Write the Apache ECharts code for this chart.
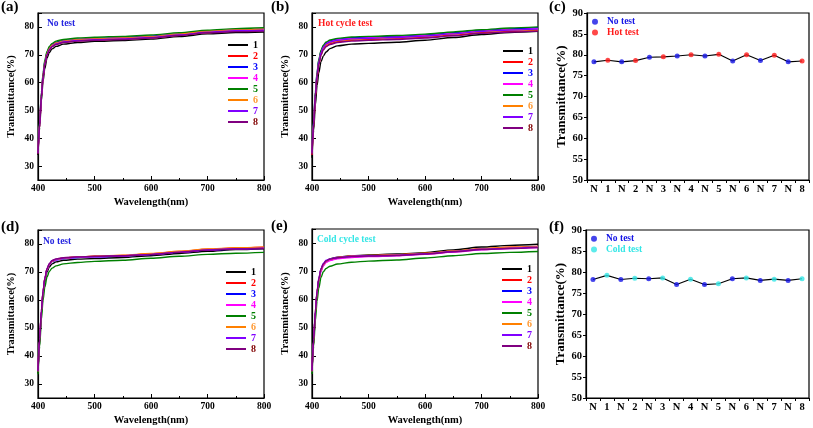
<!DOCTYPE html>
<html>
<head>
<meta charset="utf-8">
<script src="https://cdn.jsdelivr.net/npm/echarts@6.0.0/dist/echarts.min.js"></script>
<style>
  html, body { margin: 0; padding: 0; background: #fff; }
  #chart { width: 813px; height: 428px; }
</style>
</head>
<body>
<div id="chart"></div>
<script>
// wavelength samples (nm)
const wavelengths = [400, 403, 406, 409, 412, 416, 420, 425, 432, 445, 470, 500, 550, 600, 650, 700, 750, 800]
const sampleNames = ['1', '2', '3', '4', '5', '6', '7', '8']
const lineColors = ['#000000', '#FF0000', '#0000FF', '#FF00FF', '#008000', '#FF8000', '#8000FF', '#800080']
const labelColors = ['#000000', '#FF0000', '#0000FF', '#FF00FF', '#008000', '#FF9933', '#8000FF', '#800000']

// (a) No test
const noTestA = [
  [34, 44, 53.5, 60.5, 65, 68.8, 70.8, 72.1, 73.0, 73.8, 74.4, 74.8, 75.1, 75.6, 76.5, 77.5, 78.0, 78.2],
  [34.5, 45, 55, 62, 66.5, 70, 71.8, 73.0, 73.8, 74.5, 75.0, 75.3, 75.6, 76.1, 77.0, 78.0, 78.5, 78.8],
  [35, 46, 56, 63, 67.5, 70.8, 72.5, 73.7, 74.5, 75.1, 75.6, 75.9, 76.2, 76.7, 77.5, 78.5, 79.0, 79.3],
  [34.8, 45.5, 55.5, 62.5, 67, 70.3, 72.1, 73.3, 74.1, 74.8, 75.3, 75.6, 75.9, 76.4, 77.2, 78.2, 78.7, 79.0],
  [35, 46.5, 56.5, 63.5, 68, 71.2, 73.0, 74.1, 74.9, 75.5, 76.0, 76.3, 76.6, 77.1, 77.9, 78.8, 79.4, 79.7],
  [34.8, 45.5, 55.5, 62.5, 67, 70.4, 72.2, 73.4, 74.2, 74.9, 75.4, 75.7, 76.0, 76.5, 77.4, 78.4, 78.9, 79.2],
  [34.6, 45.2, 55.2, 62.2, 66.7, 70.1, 71.9, 73.1, 73.9, 74.6, 75.1, 75.4, 75.7, 76.2, 77.1, 78.1, 78.6, 78.8],
  [34.5, 45, 55, 62, 66.5, 69.9, 71.7, 72.9, 73.7, 74.4, 74.9, 75.2, 75.5, 76.0, 76.9, 77.9, 78.3, 78.5]
]
// (b) Hot cycle test
const hotCycleB = [
  [33, 43, 52, 59, 63.5, 67.5, 69.5, 71.0, 72.2, 73.2, 73.8, 74.1, 74.5, 75.2, 76.2, 77.3, 78.0, 78.4],
  [34, 45, 55, 62, 66.5, 70, 72.0, 73.2, 74.0, 74.7, 75.2, 75.5, 75.8, 76.3, 77.0, 77.9, 78.4, 78.7],
  [35, 46.5, 56.5, 63.5, 68, 71.3, 73.1, 74.3, 75.0, 75.6, 76.1, 76.3, 76.6, 77.1, 77.9, 78.7, 79.3, 79.7],
  [35, 46, 56, 63, 67.5, 71, 72.8, 74.0, 74.7, 75.3, 75.8, 76.0, 76.3, 76.8, 77.6, 78.5, 79.0, 79.3],
  [35.2, 46.8, 56.8, 63.8, 68.3, 71.6, 73.4, 74.6, 75.3, 75.9, 76.4, 76.6, 76.9, 77.4, 78.2, 79.0, 79.6, 80.0],
  [34.5, 45.5, 55.5, 62.5, 67, 70.5, 72.4, 73.6, 74.4, 75.0, 75.5, 75.8, 76.1, 76.6, 77.4, 78.3, 78.8, 79.0],
  [34.8, 45.8, 55.8, 62.8, 67.3, 70.8, 72.7, 73.9, 74.6, 75.2, 75.7, 75.9, 76.2, 76.7, 77.5, 78.4, 78.9, 79.2],
  [34.2, 45, 55, 62, 66.5, 69.8, 71.7, 72.9, 73.7, 74.4, 74.9, 75.2, 75.5, 76.0, 76.8, 77.7, 78.2, 78.5]
]
// (d) No test
const noTestD = [
  [34, 45, 55, 62, 66.5, 70, 71.8, 72.9, 73.6, 74.2, 74.6, 74.8, 75.2, 75.8, 76.6, 77.4, 78.0, 78.3],
  [34.5, 46, 56, 63, 67.5, 71, 72.8, 73.9, 74.5, 75.0, 75.4, 75.6, 75.9, 76.5, 77.3, 78.1, 78.6, 78.9],
  [34.5, 45.8, 55.8, 62.8, 67.3, 70.8, 72.6, 73.7, 74.3, 74.8, 75.2, 75.4, 75.7, 76.2, 77.0, 77.8, 78.2, 78.5],
  [34.5, 45.8, 55.8, 62.8, 67.3, 70.9, 72.7, 73.8, 74.4, 74.9, 75.3, 75.5, 75.8, 76.3, 77.1, 77.9, 78.3, 78.6],
  [33.5, 43.5, 53, 60, 64.5, 68.2, 70.2, 71.4, 72.2, 72.9, 73.4, 73.8, 74.2, 74.9, 75.6, 76.3, 76.7, 77.0],
  [34.5, 46, 56, 63, 67.5, 71, 72.8, 73.9, 74.5, 75.0, 75.4, 75.6, 76.0, 76.6, 77.4, 78.2, 78.7, 78.9],
  [34.6, 46.2, 56.2, 63.2, 67.7, 71.2, 73.0, 74.1, 74.6, 75.0, 75.3, 75.5, 75.8, 76.3, 77.1, 77.9, 78.3, 78.5],
  [34.6, 46.2, 56.2, 63.2, 67.7, 71.2, 73.0, 74.1, 74.7, 75.1, 75.4, 75.6, 75.8, 76.2, 77.0, 77.8, 78.2, 78.4]
]
// (e) Cold cycle test
const coldCycleE = [
  [34.5, 45.5, 55.5, 62.5, 67, 70.6, 72.5, 73.7, 74.4, 75.0, 75.5, 75.8, 76.1, 76.6, 77.6, 78.6, 79.2, 79.6],
  [34.5, 45.5, 55.5, 62.5, 67, 70.5, 72.3, 73.5, 74.2, 74.8, 75.3, 75.5, 75.8, 76.3, 77.1, 77.9, 78.5, 78.8],
  [34.3, 45.2, 55.2, 62.2, 66.7, 70.2, 72.1, 73.3, 74.0, 74.6, 75.1, 75.4, 75.7, 76.2, 77.0, 77.8, 78.3, 78.6],
  [34.3, 45, 55, 62, 66.5, 70, 71.9, 73.1, 73.8, 74.4, 74.9, 75.2, 75.5, 76.0, 76.8, 77.6, 78.1, 78.4],
  [33.5, 43.5, 52.5, 59.5, 64, 67.8, 69.8, 71.0, 71.8, 72.6, 73.2, 73.6, 74.0, 74.7, 75.5, 76.3, 76.7, 77.0],
  [34.5, 45.5, 55.5, 62.5, 67, 70.5, 72.4, 73.6, 74.3, 74.9, 75.4, 75.6, 75.9, 76.4, 77.2, 78.0, 78.5, 78.7],
  [34.8, 46, 56, 63, 67.5, 71, 72.8, 73.9, 74.4, 74.9, 75.3, 75.5, 75.7, 76.2, 77.0, 77.8, 78.2, 78.5],
  [34.6, 45.8, 55.8, 62.8, 67.3, 70.8, 72.6, 73.7, 74.3, 74.8, 75.2, 75.4, 75.6, 76.1, 76.9, 77.7, 78.1, 78.4]
]

// (c) / (f) transmittance at one wavelength, N = before test
const cycleCats = ['N', '1', 'N', '2', 'N', '3', 'N', '4', 'N', '5', 'N', '6', 'N', '7', 'N', '8']
const hotCompare = [78.3, 78.7, 78.3, 78.6, 79.4, 79.5, 79.7, 80.0, 79.7, 80.1, 78.5, 80.0, 78.6, 79.9, 78.3, 78.5]
const coldCompare = [78.2, 79.2, 78.2, 78.5, 78.4, 78.6, 77.0, 78.3, 77.0, 77.2, 78.4, 78.6, 78.0, 78.3, 78.0, 78.4]

const FONT = 'Liberation Serif'
const chart = echarts.init(document.getElementById('chart'), null, { renderer: 'canvas' })

const grids = [
  { left: 38, top: 13, width: 226, height: 167 },
  { left: 312, top: 13, width: 226, height: 167 },
  { left: 587, top: 13, width: 222, height: 167 },
  { left: 38, top: 230, width: 226, height: 168 },
  { left: 312, top: 229, width: 226, height: 169 },
  { left: 586, top: 230, width: 223, height: 168 }
].map(g => ({ ...g, show: true, borderColor: '#000', borderWidth: 1.2, containLabel: false }))

const axisFont = { fontFamily: FONT, fontWeight: 'bold', color: '#000' }
const axisLine = { show: true, lineStyle: { color: '#000', width: 1.2 } }

const specX = i => ({
  type: 'value', gridIndex: i, min: 400, max: 800, interval: 100,
  axisLine, splitLine: { show: false },
  axisTick: { inside: true, length: 4, lineStyle: { color: '#000' } },
  minorTick: { show: true, splitNumber: 2, length: 2, lineStyle: { color: '#000' } },
  axisLabel: { ...axisFont, fontSize: 9.5, margin: 4 },
  name: 'Wavelength(nm)', nameLocation: 'middle', nameGap: 17,
  nameTextStyle: { ...axisFont, fontSize: 10.5 }
})
const specY = i => ({
  type: 'value', gridIndex: i, min: 25, max: 85,
  axisLine, splitLine: { show: false },
  axisTick: { inside: true, length: 4, lineStyle: { color: '#000' } },
  axisLabel: { ...axisFont, fontSize: 9.5, margin: 4, formatter: v => (v % 10 === 0 ? v : '') },
  name: 'Transmittance(%)', nameLocation: 'middle', nameGap: 21,
  nameTextStyle: { ...axisFont, fontSize: 10.5 }
})
const cmpX = i => ({
  type: 'category', gridIndex: i, data: cycleCats, boundaryGap: true,
  axisLine, splitLine: { show: false },
  axisTick: { show: true, length: 3, lineStyle: { color: '#000' } },
  axisLabel: { ...axisFont, fontSize: 10.5, margin: 4, interval: 0 }
})
const cmpY = i => ({
  type: 'value', gridIndex: i, min: 50, max: 90, interval: 5,
  axisLine, splitLine: { show: false },
  axisTick: { show: true, length: 3, lineStyle: { color: '#000' } },
  axisLabel: { ...axisFont, fontSize: 10.5, margin: 4 },
  name: 'Transmittance(%)', nameLocation: 'middle', nameGap: 16,
  nameTextStyle: { ...axisFont, fontSize: 13 }
})

const xAxis = [specX(0), specX(1), cmpX(2), specX(3), specX(4), cmpX(5)]
const yAxis = [specY(0), specY(1), cmpY(2), specY(3), specY(4), cmpY(5)]

const series = []
const addSpectra = (sets, idx) => {
  sets.forEach((vals, k) => {
    series.push({
      type: 'line', name: sampleNames[k], xAxisIndex: idx, yAxisIndex: idx,
      data: wavelengths.map((w, i) => [w, vals[i]]),
      showSymbol: false, smooth: 0.3, smoothMonotone: 'x',
      lineStyle: { color: lineColors[k], width: 1.4 },
      itemStyle: { color: lineColors[k] },
      silent: true
    })
  })
}
addSpectra(noTestA, 0)
addSpectra(hotCycleB, 1)
addSpectra(noTestD, 3)
addSpectra(coldCycleE, 4)

const addCompare = (vals, idx, testName, testColor) => {
  series.push({
    type: 'line', xAxisIndex: idx, yAxisIndex: idx, data: vals,
    showSymbol: false, lineStyle: { color: '#000', width: 1.1 }, silent: true
  })
  series.push({
    type: 'scatter', name: 'No test', xAxisIndex: idx, yAxisIndex: idx, symbolSize: 5, z: 3,
    itemStyle: { color: '#1515E6' },
    data: vals.map((v, i) => [i, v]).filter((_, i) => cycleCats[i] === 'N')
  })
  series.push({
    type: 'scatter', name: testName, xAxisIndex: idx, yAxisIndex: idx, symbolSize: 5, z: 3,
    itemStyle: { color: testColor },
    data: vals.map((v, i) => [i, v]).filter((_, i) => cycleCats[i] !== 'N')
  })
}
addCompare(hotCompare, 2, 'Hot test', '#FF1A1A')
addCompare(coldCompare, 5, 'Cold test', '#33E6E6')

const sampleLegend = (left, top) => ({
  orient: 'vertical', left, top, padding: 0, itemGap: 0,
  icon: 'rect', itemWidth: 20, itemHeight: 2,
  selectedMode: false,
  textStyle: { fontFamily: FONT, fontWeight: 'bold', fontSize: 10, lineHeight: 11 },
  data: sampleNames.map((n, k) => ({ name: n, textStyle: { color: labelColors[k] } }))
})
const cmpLegend = (left, top, testName, testColor) => ({
  orient: 'vertical', left, top, padding: 0, itemGap: 0,
  icon: 'circle', itemWidth: 6, itemHeight: 6,
  selectedMode: false,
  textStyle: { fontFamily: FONT, fontWeight: 'bold', fontSize: 9.5, lineHeight: 10.7, padding: [0, 0, 0, 4] },
  data: [
    { name: 'No test', textStyle: { color: '#1515E6' } },
    { name: testName, textStyle: { color: testColor } }
  ]
})

const txt = (text, x, y, color, size) => ({
  type: 'text', x, y, silent: true,
  style: {
    text, fill: color, font: `bold ${size}px "${FONT}"`,
    align: 'left', verticalAlign: 'middle', textAlign: 'left', textVerticalAlign: 'middle'
  }
})

const option = {
  animation: false,
  backgroundColor: '#fff',
  grid: grids,
  xAxis,
  yAxis,
  series,
  legend: [
    sampleLegend(228, 39.5),
    sampleLegend(503, 45.5),
    sampleLegend(226, 266.5),
    sampleLegend(502, 263.5),
    cmpLegend(592, 16.5, 'Hot test', '#FF1A1A'),
    cmpLegend(591, 233.5, 'Cold test', '#33E6E6')
  ],
  graphic: [
    txt('(a)', 1, 7.5, '#000', 15),
    txt('(b)', 271, 7, '#000', 15),
    txt('(c)', 549, 7.5, '#000', 15),
    txt('(d)', 1, 227, '#000', 15),
    txt('(e)', 271, 226, '#000', 15),
    txt('(f)', 549, 227.5, '#000', 15),
    txt('No test', 47, 24, '#2626E0', 9.5),
    txt('Hot cycle test', 318, 23.5, '#FF1A1A', 9.5),
    txt('No test', 43, 242, '#2626E0', 9.5),
    txt('Cold cycle test', 317, 240, '#33E6E6', 9.5)
  ]
}
chart.setOption(option)
</script>
</body>
</html>
